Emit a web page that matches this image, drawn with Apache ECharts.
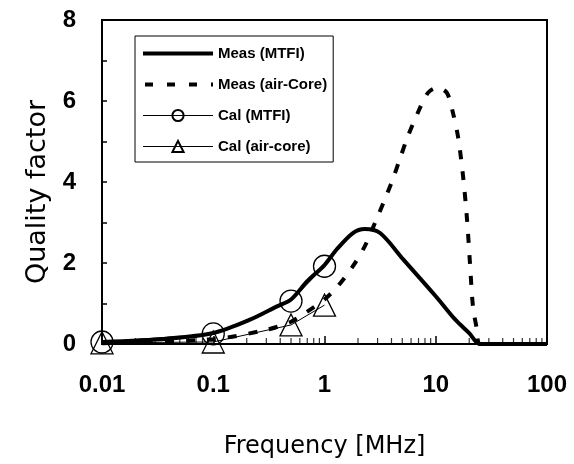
<!DOCTYPE html>
<html>
<head>
<meta charset="utf-8">
<script src="https://cdn.jsdelivr.net/npm/echarts@6/dist/echarts.min.js"></script>
<style>
html,body{margin:0;padding:0;background:#fff;}
#chart{width:574px;height:464px;}
</style>
</head>
<body>
<div id="chart"></div>
<script>
// ---- data ----
const seriesNames = ['Meas (MTFI)', 'Meas (air-Core)', 'Cal (MTFI)', 'Cal (air-core)'];

const measMtfiFreq = [0.01, 0.038, 0.1, 0.214, 0.374, 0.5, 0.7, 1, 1.29, 1.8, 2.3, 3.16, 5.1, 10, 15, 20, 25, 100];
const measMtfiQ    = [0.05, 0.13, 0.27, 0.6, 0.93, 1.1, 1.55, 1.95, 2.34, 2.74, 2.84, 2.74, 2.09, 1.18, 0.6, 0.27, 0, 0];

const measAirFreq = [0.01, 0.1, 0.3, 0.5, 0.7, 1, 1.32, 1.8, 2.3, 2.85, 3.4, 4.1, 4.8, 5.6, 6.8, 8.5, 10.3, 12.6, 14.3, 15.9, 17.6, 19.1, 20.3, 21.6, 23.4, 25, 100];
const measAirQ    = [0.02, 0.12, 0.35, 0.55, 0.8, 1.1, 1.43, 1.92, 2.41, 3.0, 3.5, 4.06, 4.6, 5.12, 5.67, 6.2, 6.33, 6.2, 5.7, 5.1, 4.14, 3.08, 2.0, 0.93, 0.37, 0, 0];

const calMtfiFreq = [0.01, 0.1, 0.5, 1];
const calMtfiQ    = [0.05, 0.25, 1.06, 1.92];

const calAirFreq = [0.01, 0.1, 0.5, 1];
const calAirQ    = [0.03, 0.05, 0.47, 0.96];

const xTickValues = [0.01, 0.1, 1, 10, 100];
const xTickLabels = ['0.01', '0.1', '1', '10', '100'];
const xMinorTicks = [0.02,0.03,0.04,0.05,0.06,0.07,0.08,0.09,
                     0.2,0.3,0.4,0.5,0.6,0.7,0.8,0.9,
                     2,3,4,5,6,7,8,9,
                     20,30,40,50,60,70,80,90];
const yTickLabels = ['0', '2', '4', '6', '8'];

const xAxisName = 'Frequency [MHz]';
const yAxisName = 'Quality factor';

// ---- build ----
const pairs = (xs, ys) => xs.map((x, i) => [x, ys[i]]);
const hiddenSymbol = {color: 'rgba(0,0,0,0)', borderWidth: 0, opacity: 0};

const chart = echarts.init(document.getElementById('chart'), null, {renderer: 'canvas'});

const option = {
  animation: false,
  backgroundColor: '#fff',
  grid: {
    left: 102, right: 27, top: 20, bottom: 119,
    show: true, borderColor: '#000', borderWidth: 2, backgroundColor: 'transparent'
  },
  legend: {
    data: [
      {name: seriesNames[0], itemStyle: hiddenSymbol, lineStyle: {width: 4, color: '#000', type: 'solid'}},
      {name: seriesNames[1], itemStyle: hiddenSymbol, lineStyle: {width: 4, color: '#000', type: [8, 14], dashOffset: -2}},
      {name: seriesNames[2], lineStyle: {width: 1, color: '#000'}},
      {name: seriesNames[3], lineStyle: {width: 1, color: '#000'}}
    ],
    orient: 'vertical',
    left: 135, top: 36,
    padding: [10, 6, 8, 6],
    itemWidth: 70, itemHeight: 14, itemGap: 16,
    borderColor: '#000', borderWidth: 1,
    backgroundColor: '#fff',
    textStyle: {color: '#000', fontSize: 15, fontWeight: 'bold', fontFamily: 'Liberation Sans'}
  },
  xAxis: {
    type: 'log', logBase: 10, min: 0.01, max: 100,
    name: xAxisName, nameLocation: 'middle', nameGap: 91,
    nameTextStyle: {color: '#000', fontSize: 24, fontFamily: 'DejaVu Sans'},
    axisLine: {lineStyle: {color: '#000', width: 2}},
    axisTick: {inside: true, length: 8, lineStyle: {color: '#000', width: 1.5}},
    axisLabel: {
      margin: 29, color: '#000', fontSize: 24, fontWeight: 'bold', fontFamily: 'Liberation Sans',
      formatter: v => {
        const i = xTickValues.findIndex(t => Math.abs(Math.log10(t) - Math.log10(v)) < 1e-6);
        return i >= 0 ? xTickLabels[i] : '';
      }
    },
    splitLine: {show: false}
  },
  yAxis: {
    type: 'value', min: 0, max: 8, interval: 1,
    name: yAxisName, nameLocation: 'middle', nameGap: 49, nameRotate: 90,
    nameTextStyle: {color: '#000', fontSize: 27, fontFamily: 'DejaVu Sans', padding: [0, 20, 0, 0]},
    axisLine: {show: true, lineStyle: {color: '#000', width: 2}},
    axisTick: {inside: true, length: 5, lineStyle: {color: '#000', width: 1.5}},
    axisLabel: {
      margin: 26, color: '#000', fontSize: 24, fontWeight: 'bold', fontFamily: 'Liberation Sans',
      formatter: v => (v % 2 === 0 ? yTickLabels[v / 2] : '')
    },
    splitLine: {show: false}
  },
  series: [
    {
      name: seriesNames[0], type: 'line', data: pairs(measMtfiFreq, measMtfiQ),
      symbol: 'none', smooth: 0.3, z: 3,
      lineStyle: {color: '#000', width: 4}, itemStyle: {color: '#000'}
    },
    {
      name: seriesNames[1], type: 'line', data: pairs(measAirFreq, measAirQ),
      symbol: 'none', smooth: 0.3, z: 3,
      lineStyle: {color: '#000', width: 4, type: [9, 12]}, itemStyle: {color: '#000'}
    },
    {
      name: seriesNames[2], type: 'line', data: pairs(calMtfiFreq, calMtfiQ),
      symbol: 'circle', symbolSize: 22, z: 4,
      lineStyle: {color: '#000', width: 1}, itemStyle: {color: 'rgba(0,0,0,0)', borderColor: '#000', borderWidth: 1.3}
    },
    {
      name: seriesNames[3], type: 'line', data: pairs(calAirFreq, calAirQ),
      symbol: 'triangle', symbolSize: 22, z: 4,
      lineStyle: {color: '#000', width: 1}, itemStyle: {color: 'rgba(0,0,0,0)', borderColor: '#000', borderWidth: 1.3}
    },
    {
      name: 'minorTicks', type: 'scatter', silent: true, z: 2,
      data: xMinorTicks.map(v => [v, 0]),
      symbol: 'rect', symbolSize: [1.2, 6], symbolOffset: [0, -3],
      itemStyle: {color: '#000'}
    }
  ]
};
chart.setOption(option);
</script>
</body>
</html>
